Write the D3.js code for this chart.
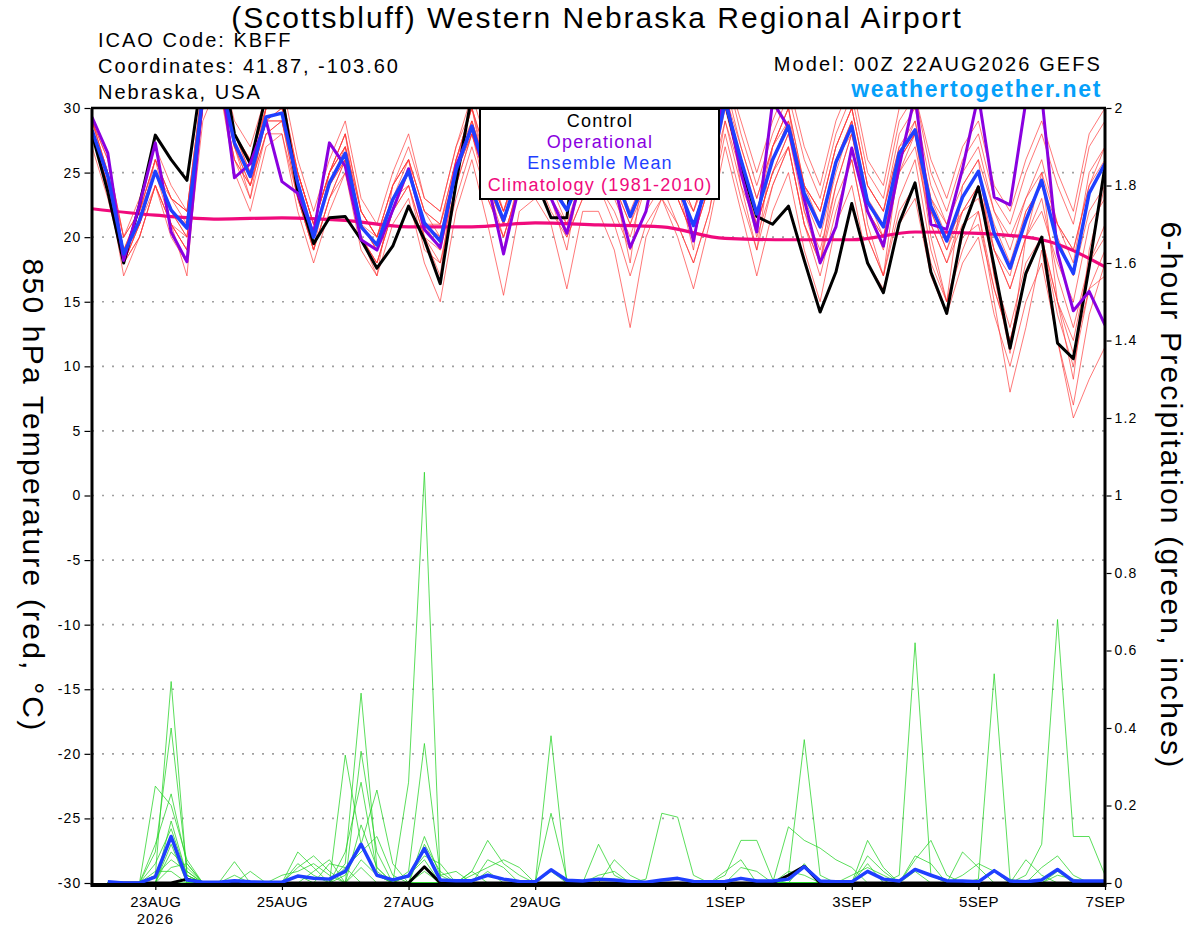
<!DOCTYPE html>
<html>
<head>
<meta charset="utf-8">
<script src="https://cdn.jsdelivr.net/npm/d3@7.9.0/dist/d3.min.js"></script>
<style>
  body { margin: 0; background: #fff; }
  svg { display: block; }
  text { font-family: "Liberation Sans", Arial, Helvetica, sans-serif; }
</style>
</head>
<body>
<svg id="chart" width="1200" height="927"></svg>
<script>
// ---- run / time axis ----
const runStart = "2026-08-22T00:00:00Z";   // 00Z run, 6-hourly output to 384h
const stepHours = 6;
const dateTicks = ["2026-08-23", "2026-08-25", "2026-08-27", "2026-08-29",
                   "2026-09-01", "2026-09-03", "2026-09-05", "2026-09-07"];
const dateTickLabels = ["23AUG", "25AUG", "27AUG", "29AUG", "1SEP", "3SEP", "5SEP", "7SEP"];
const yearLabel = "2026";

// ---- 850 hPa temperature (C), one value per 6 h ----
const control = [
  28, 23.5, 18, 22.5, 27.9, 26, 24.4, 33,
  35, 28, 25.7, 31, 31, 23.5, 19.5, 21.5,
  21.6, 19.8, 17.6, 19.3, 22.4, 19.8, 16.4, 24.2,
  31, 31, 28, 26, 24.5, 21.5, 21.5, 32,
  34, 33, 31, 31, 33, 34, 32, 31,
  30.5, 25.5, 21.6, 21.0, 22.4, 18.2, 14.2, 17.3,
  22.6, 18.0, 15.7, 21.1, 24.2, 17.3, 14.1, 20.6,
  23.9, 17.7, 11.4, 17.2, 20.0, 11.8, 10.6, 17.7,
  25.5];
const operational = [
  29.3, 26.5, 18.2, 22.5, 27.3, 20.4, 18.1, 31,
  34, 24.6, 25.7, 29, 24.3, 23.4, 20.3, 27.3,
  25.5, 19.8, 19, 22.1, 25.3, 20.6, 19.2, 25.5,
  28.5, 24.2, 18.7, 24, 25, 23, 20.3, 25,
  27, 24, 19.2, 22, 28, 25, 19.7, 26,
  31, 25, 20.4, 30.5, 28.5, 22.9, 18, 20.8,
  26.9, 22, 19.3, 25.5, 31, 21, 20.6, 25.3,
  31, 23.1, 22.5, 30.5, 31, 18.8, 14.3, 15.8,
  13.2];
const ensembleMean = [
  28.3, 24.7, 18.7, 21.3, 25.1, 22.1, 20.7, 31,
  33, 27.3, 24.7, 29.3, 29.6, 24.2, 20.0, 24.2,
  26.5, 20.8, 19.4, 22.9, 25.1, 21.1, 19.7, 25.2,
  28.6, 24.5, 21.3, 25, 26, 24, 22.1, 25,
  26, 25, 21.6, 24.5, 26, 24, 20.9, 24.5,
  30.5, 26, 21.8, 26, 28.6, 23.4, 20.8, 25.8,
  28.6, 22.7, 20.8, 26.5, 28.3, 22.4, 19.7, 23.1,
  25.1, 20.3, 17.6, 21.3, 24.4, 19.5, 17.2, 23.4,
  25.7];
// climatology is daily (00Z each day)
const climatologyDaily = [22.2, 21.7, 21.4, 21.5, 21.3, 20.8, 20.8, 21.1, 20.95,
                          20.8, 19.9, 19.8, 19.8, 20.4, 20.3, 19.8, 17.7];

// ensemble members (temperature)
const tMember01 = [29,26,20,23, 27,24,22,32, 34,29,27,31, 32,26,22,26,
  29,23,21,25, 28,23,22,27, 31,27,24,28, 29,27,25,28,
  29,28,25,27, 29,27,24,28, 33,29,25,29, 32,27,24,29,
  32,26,24,30, 31,26,23,27, 29,24,22,26, 29,25,22,28, 30];
const tMember02 = [28,24,17,20, 24,20,18,29, 32,25,22,27, 28,22,18,22,
  25,19,17,21, 23,18,15,22, 26,21,15.5,22, 23,21,16,22,
  22,19,13,20, 23,20,16,21, 27,22,17,22, 25,19,15,21,
  24,18,16,21, 23,17,14,18, 20,14,10,15, 18,12,7,14, 18];
const tMember03 = [28,25,19,22, 26,23,21,31, 33,28,25,30, 30,25,21,25,
  27,21,19,23, 26,22,20,26, 29,25,22,26, 27,25,23,26,
  27,26,23,26, 27,24,21,25, 31,25,20,24, 27,21,18,23,
  26,20,17,22, 24,18,15,20, 21,16,12,17, 20,15,11,16, 19];
const tMember04 = [27,23,18,20, 24,21,19,30, 32,26,23,28, 28,23,19,23,
  26,20,18,22, 24,20,19,24, 28,24,21,26, 27,25,23,27,
  28,27,24,27, 29,26,23,27, 33,28,24,28, 31,26,23,28,
  31,25,23,29, 31,25,22,26, 28,23,21,25, 28,24,21,27, 29];
const tMember05 = [29,25,18,21, 26,21,17,31, 34,27,23,30, 31,24,19,25,
  28,20,17,24, 26,20,17,26, 30,24,19,25, 28,23,19,26,
  29,24,18,27, 30,24,19,28, 32,24,19,27, 30,22,18,26,
  29,21,17,26, 28,20,15,24, 26,17,11,20, 25,15,9,19, 24];
const tMember06 = [28,24,19,21, 25,22,21,30, 33,27,25,29, 29,24,20,24,
  26,21,20,23, 25,21,21,25, 28,23,20,24, 25,22,20,23,
  24,22,19,22, 24,21,18,22, 29,24,21,25, 28,23,21,26,
  28,23,21,26, 28,22,20,23, 25,19,16,20, 23,17,13,18, 21];
const tMember07 = [29,26,20,22, 25,23,22,32, 33,28,26,30, 30,25,21,25,
  27,22,20,24, 26,22,21,26, 30,26,23,27, 28,26,24,27,
  27,26,23,25, 26,23,20,24, 31,26,22,27, 30,24,22,27,
  30,24,22,28, 30,24,21,25, 27,22,19,23, 26,21,18,25, 27];
const tMember08 = [28,24,18,21, 24,21,20,30, 32,26,24,28, 29,23,19,23,
  25,20,18,22, 24,19,18,23, 27,23,20,24, 25,23,21,24,
  25,23,20,24, 25,23,20,24, 30,26,22,26, 29,24,22,27,
  30,24,22,27, 29,23,20,22, 24,17,13,18, 20,14,10,16, 17];
const tMember09 = [28,25,19,21, 25,22,20,31, 33,27,24,29, 30,25,21,25,
  28,22,20,24, 27,23,22,27, 30,26,22,25, 26,23,20,23,
  24,21,17,21, 23,21,18,22, 28,23,19,24, 27,21,18,24,
  28,22,19,25, 27,21,18,22, 23,19,17,22, 24,21,19,24, 27];
const tMember10 = [29,25,19,22, 26,23,22,32, 34,28,26,30, 31,25,21,25,
  27,22,20,23, 24,20,18,24, 28,24,21,25, 26,24,23,26,
  27,26,23,26, 28,25,22,26, 32,27,23,27, 30,24,21,26,
  29,22,20,26, 29,23,21,24, 26,22,20,23, 25,21,19,24, 26];
const tMember11 = [28,24,18,20, 24,21,19,30, 32,26,24,28, 29,23,19,23,
  26,20,18,22, 25,21,20,25, 29,25,22,26, 27,25,22,25,
  26,24,21,24, 25,24,22,25, 30,25,21,25, 28,22,19,24,
  28,22,20,26, 28,21,18,21, 22,16,12,17, 20,15,12,18, 20];
const tMember12 = [28,25,19,21, 25,22,20,31, 33,27,25,29, 30,24,20,24,
  27,21,19,23, 25,21,19,25, 28,24,20,24, 26,25,23,26,
  27,27,24,27, 27,25,22,26, 31,27,23,27, 29,24,22,27,
  30,24,22,27, 28,22,19,22, 24,19,16,20, 22,18,15,21, 23];
const tMember13 = [28,24,18,21, 25,21,19,30, 32,27,24,29, 29,24,20,24,
  26,21,19,23, 25,21,20,25, 29,25,22,26, 26,24,22,25,
  25,24,21,25, 25,23,20,24, 29,25,21,25, 27,21,17,22,
  26,20,17,23, 26,19,15,19, 22,15,8,13, 19,12,6,9, 11.5];
const tMember14 = [29,25,20,22, 26,23,22,31, 33,28,25,30, 31,25,21,25,
  28,22,20,24, 26,22,21,26, 30,25,21,25, 27,24,21,25,
  27,25,22,25, 26,24,21,25, 31,26,22,26, 29,23,20,25,
  29,23,20,25, 28,22,19,23, 25,21,18,22, 24,20,17,22, 24];
const tempMembers = [tMember01, tMember02, tMember03, tMember04, tMember05, tMember06, tMember07,
                     tMember08, tMember09, tMember10, tMember11, tMember12, tMember13, tMember14];

// ---- 6-hour precipitation (inches); first step (0 h) has no value ----
const controlPrecip = [
  null,0,0,0,0,0,0.01,0,  0,0,0,0,0,0,0,0,
  0,0,0,0,0,0.042,0,0,    0,0,0,0,0,0,0,0,
  0,0,0,0,0,0,0,0,        0,0,0,0,0.02,0.043,0,0,
  0,0,0,0,0,0,0,0,        0,0,0,0,0,0,0,0,  0];
const ensembleMeanPrecip = [
  null,0.003,0,0,0.016,0.12,0.008,0.002,  0.002,0.006,0.003,0.002,0.002,0.018,0.012,0.01,
  0.03,0.10,0.02,0.008,0.018,0.089,0.008,0.006,  0.006,0.02,0.01,0.004,0.003,0.034,0.007,0.005,
  0.01,0.008,0.004,0.002,0.008,0.012,0.004,0.003,  0.004,0.012,0.005,0.005,0.01,0.042,0.005,0.003,
  0.003,0.03,0.01,0.005,0.035,0.02,0.006,0.005,  0.003,0.032,0.005,0.003,0.008,0.035,0.005,0.005,
  0.005];

const pMember01 = [null,0,0,0,0.02,0.52,0.02,0, 0,0,0,0,0,0.05,0.02,0,
  0.05,0.49,0.04,0,0,0,0,0, 0.03,0,0,0,0,0,0,0, 0,0,0,0,0,0,0,0,
  0.02,0.11,0.11,0.01,0,0,0,0, 0,0,0,0,0.03,0,0,0, 0,0,0,0,0,0,0,0, 0];
const pMember02 = [null,0,0,0,0.08,0.40,0.03,0, 0,0,0,0,0.02,0.03,0.05,0.02,
  0,0,0,0,0.26,1.06,0.01,0, 0,0,0,0,0,0,0,0, 0.10,0.02,0,0,0,0,0,0,
  0,0,0,0,0.02,0.37,0.02,0, 0,0,0,0,0,0,0,0, 0,0,0,0,0,0.02,0.01,0, 0];
const pMember03 = [null,0,0,0,0.25,0.20,0.06,0, 0,0,0,0,0,0,0,0,
  0.33,0.10,0.02,0,0,0,0,0, 0.03,0.11,0.05,0.02,0,0,0,0, 0,0,0,0,0,0,0,0,
  0,0,0,0,0,0,0,0, 0,0.11,0.04,0,0,0,0,0, 0.01,0.54,0.01,0,0,0,0,0, 0];
const pMember04 = [null,0,0,0,0.10,0.23,0.05,0, 0,0.055,0,0,0,0,0,0,
  0,0,0,0,0.03,0.36,0.02,0, 0,0,0,0,0,0,0,0, 0,0,0,0,0,0,0,0,
  0,0,0,0,0.145,0.11,0.09,0.06, 0.04,0,0,0,0,0,0,0, 0,0,0,0,0,0,0,0, 0];
const pMember05 = [null,0,0,0,0.05,0.14,0.02,0, 0,0,0,0,0,0.08,0.04,0,
  0,0.34,0.08,0,0,0,0,0, 0,0,0,0,0,0.38,0,0, 0,0,0,0,0,0,0,0,
  0,0,0,0,0,0,0,0, 0,0,0,0,0.07,0.05,0,0, 0,0,0,0,0,0,0,0, 0];
const pMember06 = [null,0,0,0,0,0.08,0.04,0, 0,0.02,0,0,0,0,0,0,
  0.08,0.26,0.03,0,0,0.03,0,0, 0,0.06,0.04,0,0,0,0,0, 0,0,0,0,0,0,0,0,
  0,0,0,0,0,0.05,0,0, 0,0,0,0.02,0.62,0.02,0,0, 0,0,0,0,0,0,0,0, 0];
const pMember07 = [null,0,0,0,0.02,0.06,0.03,0, 0,0,0,0,0,0,0.03,0.06,
  0,0,0,0,0,0.10,0.03,0, 0,0,0,0,0,0,0,0, 0,0,0,0,0,0,0,0,
  0,0.04,0.03,0,0,0,0,0, 0,0,0,0,0,0,0,0.08, 0.04,0,0,0,0,0,0,0, 0];
const pMember08 = [null,0,0,0,0,0.16,0.02,0, 0,0,0,0,0,0,0,0,
  0.02,0.10,0.24,0.05,0,0,0,0, 0,0,0,0,0,0.18,0.01,0, 0,0,0,0,0,0,0,0,
  0,0,0,0,0,0,0,0, 0,0.07,0.03,0,0,0,0,0, 0,0,0,0,0.04,0.07,0.02,0, 0];
const pMember09 = [null,0,0,0,0.03,0.03,0,0, 0,0,0,0,0,0.04,0.07,0.03,
  0,0,0,0,0.02,0.06,0,0, 0,0,0,0,0,0,0,0, 0,0.06,0.02,0,0,0,0,0,
  0,0,0,0,0.03,0.02,0,0, 0,0,0,0,0,0,0,0, 0,0,0,0.06,0.02,0,0,0, 0];
const pMember10 = [null,0,0,0,0,0.10,0,0, 0,0,0.03,0,0,0,0,0,
  0,0.06,0.02,0,0,0,0,0, 0.02,0.04,0.06,0.04,0,0,0,0, 0,0,0,0,0,0,0,0,
  0,0,0,0,0,0,0,0, 0,0.05,0,0,0,0,0,0, 0,0,0,0,0,0.03,0,0, 0];
const pMember11 = [null,0,0,0,0,0.04,0.05,0, 0,0,0,0,0,0,0,0.05,
  0.04,0,0,0,0,0.12,0.02,0.03, 0,0,0,0,0,0,0,0, 0,0,0,0.01,0.18,0.17,0.02,0,
  0,0,0,0,0,0,0,0, 0,0,0,0,0,0,0,0.02, 0.05,0.03,0,0,0,0,0,0, 0];
const pMember12 = [null,0,0,0,0,0.12,0,0, 0,0,0,0,0,0.02,0,0,
  0,0.15,0.04,0,0,0,0,0, 0,0.03,0,0,0,0,0,0, 0,0,0,0,0,0,0,0,
  0.03,0.06,0,0,0,0,0,0, 0,0,0,0,0,0,0,0, 0,0.03,0,0,0,0,0,0, 0];
const pMember13 = [null,0,0,0,0,0,0,0, 0,0,0,0,0,0,0,0,
  0.04,0.08,0.12,0.02,0,0.04,0,0, 0,0,0,0,0,0,0,0, 0.02,0.03,0,0,0,0,0,0,
  0,0,0,0,0,0,0,0, 0,0,0,0,0.06,0.11,0.02,0, 0,0,0,0,0,0,0,0, 0];
const pMember14 = [null,0,0,0,0,0,0,0, 0,0,0,0,0,0,0,0,
  0,0.04,0,0,0.02,0.07,0.05,0, 0,0,0,0,0,0.03,0,0, 0,0,0,0,0,0,0,0,
  0,0,0,0,0,0,0,0, 0.02,0.04,0.02,0,0,0,0,0, 0,0,0,0.02,0.10,0.68,0.12,0.12, 0.02];
const precipMembers = [pMember01, pMember02, pMember03, pMember04, pMember05, pMember06, pMember07,
                       pMember08, pMember09, pMember10, pMember11, pMember12, pMember13, pMember14];

// ---- text ----
const titleText = "(Scottsbluff) Western Nebraska Regional Airport";
const infoLines = ["ICAO Code: KBFF", "Coordinates: 41.87, -103.60", "Nebraska, USA"];
const modelText = "Model: 00Z 22AUG2026 GEFS";
const siteText = "weathertogether.net";
const leftTitle = "850 hPa Temperature (red, \u00B0C)";
const rightTitle = "6-hour Precipitation (green, inches)";
const legendLabels = ["Control", "Operational", "Ensemble Mean", "Climatology (1981-2010)"];

// ---- styles ----
const C = {
  control: "#000000",
  oper: "#8a00e0",
  mean: "#1f3fff",
  climo: "#f00a7c",
  red: "#ff3535",
  green: "#28d428",
  site: "#05a0fa",
  grid: "#a0a0a0"
};
const legendColors = [C.control, C.oper, C.mean, C.climo];

const P = { left: 92, right: 1105, top: 108, bottom: 883 };

const svg = d3.select("#chart");

const t0 = Date.parse(runStart);
const timeAt = i => new Date(t0 + i * stepHours * 3600e3);
const parseDay = d3.utcParse("%Y-%m-%d");

const x = d3.scaleUtc()
  .domain([timeAt(0), timeAt(control.length - 1)])
  .range([P.left, P.right]);
const yT = d3.scaleLinear().domain([-30, 30]).range([P.bottom, P.top]);
const yP = d3.scaleLinear().domain([0, 2]).range([P.bottom, P.top]);

// clip for all data lines
svg.append("defs").append("clipPath").attr("id", "plot-clip")
  .append("rect")
  .attr("x", P.left).attr("y", P.top)
  .attr("width", P.right - P.left).attr("height", P.bottom - P.top);

// dotted grid at the temperature ticks
const tempTicks = yT.ticks(12);
svg.append("g")
  .selectAll("line")
  .data(tempTicks.filter(d => d > -30 && d < 30))
  .join("line")
  .attr("x1", P.left).attr("x2", P.right)
  .attr("y1", d => yT(d)).attr("y2", d => yT(d))
  .attr("stroke", C.grid)
  .attr("stroke-width", 1.6)
  .attr("stroke-dasharray", "2 8");

const plot = svg.append("g").attr("clip-path", "url(#plot-clip)");

const tempLine = d3.line().x((d, i) => x(timeAt(i))).y(d => yT(d));
const precipLine = d3.line()
  .defined(d => d != null)
  .x((d, i) => x(timeAt(i)))
  .y(d => yP(d));
const climoLine = d3.line()
  .x((d, i) => x(timeAt(i * 24 / stepHours)))
  .y(d => yT(d))
  .curve(d3.curveMonotoneX);

// ensemble members
plot.append("g")
  .selectAll("path")
  .data(tempMembers)
  .join("path")
  .attr("d", tempLine)
  .attr("fill", "none")
  .attr("stroke", C.red)
  .attr("stroke-width", 0.9)
  .attr("stroke-opacity", 0.75);

plot.append("g")
  .selectAll("path")
  .data(precipMembers)
  .join("path")
  .attr("d", precipLine)
  .attr("fill", "none")
  .attr("stroke", C.green)
  .attr("stroke-width", 0.9)
  .attr("stroke-opacity", 0.85);

// climatology, control, operational, mean
plot.append("path").attr("d", climoLine(climatologyDaily))
  .attr("fill", "none").attr("stroke", C.climo).attr("stroke-width", 3.2);

plot.append("path").attr("d", precipLine(controlPrecip))
  .attr("fill", "none").attr("stroke", C.control).attr("stroke-width", 3)
  .attr("stroke-linejoin", "round");
plot.append("path").attr("d", tempLine(control))
  .attr("fill", "none").attr("stroke", C.control).attr("stroke-width", 3)
  .attr("stroke-linejoin", "round");
plot.append("path").attr("d", tempLine(operational))
  .attr("fill", "none").attr("stroke", C.oper).attr("stroke-width", 3)
  .attr("stroke-linejoin", "round");
plot.append("path").attr("d", tempLine(ensembleMean))
  .attr("fill", "none").attr("stroke", C.mean).attr("stroke-width", 3.5)
  .attr("stroke-linejoin", "round");
plot.append("path").attr("d", precipLine(ensembleMeanPrecip))
  .attr("fill", "none").attr("stroke", C.mean).attr("stroke-width", 3.5)
  .attr("stroke-linejoin", "round");

// ---- frame ----
const frame = svg.append("g").attr("stroke", "#000").attr("fill", "none");
frame.append("line").attr("x1", P.left - 1).attr("x2", P.right + 1)
  .attr("y1", P.top).attr("y2", P.top).attr("stroke-width", 2.5);
frame.append("line").attr("x1", P.left - 1.5).attr("x2", P.right + 1.5)
  .attr("y1", P.bottom + 2).attr("y2", P.bottom + 2).attr("stroke-width", 4);
frame.append("line").attr("x1", P.left).attr("x2", P.left)
  .attr("y1", P.top).attr("y2", P.bottom + 2).attr("stroke-width", 3);
frame.append("line").attr("x1", P.right).attr("x2", P.right)
  .attr("y1", P.top).attr("y2", P.bottom + 2).attr("stroke-width", 3);

// ---- axes ----
function styleAxis(g, size, spacing) {
  g.select(".domain").remove();
  g.attr("font-family", null).attr("font-size", null);
  g.selectAll("text")
    .attr("font-size", size)
    .attr("letter-spacing", spacing)
    .attr("fill", "#000");
  g.selectAll(".tick line").attr("stroke", "#000").attr("stroke-width", 1.2);
}

svg.append("g")
  .attr("transform", `translate(${P.left - 1.5},0)`)
  .call(d3.axisLeft(yT).tickValues(tempTicks).tickSize(6).tickPadding(3)
    .tickFormat(d => String(d)))
  .call(g => styleAxis(g, 14, 1.2));

svg.append("g")
  .attr("transform", `translate(${P.right + 1.5},0)`)
  .call(d3.axisRight(yP).ticks(10).tickSize(5).tickPadding(3).tickFormat(d3.format("~g")))
  .call(g => styleAxis(g, 14, 1.2));

const tickDates = dateTicks.map(parseDay);
svg.append("g")
  .attr("transform", `translate(0,${P.bottom})`)
  .call(d3.axisBottom(x).tickValues(tickDates).tickSize(7).tickPadding(6)
    .tickFormat((d, i) => dateTickLabels[i]))
  .call(g => styleAxis(g, 15, 0.4));

svg.append("text")
  .attr("x", x(tickDates[0])).attr("y", 924)
  .attr("text-anchor", "middle")
  .attr("font-size", 15).attr("letter-spacing", 1)
  .text(yearLabel);

// ---- axis titles ----
svg.append("text")
  .attr("transform", `translate(33,${(P.top + P.bottom) / 2}) rotate(90)`)
  .attr("text-anchor", "middle").attr("dy", "0.35em")
  .attr("font-size", 30).attr("letter-spacing", 2.2)
  .text(leftTitle);
svg.append("text")
  .attr("transform", `translate(1171,${(P.top + P.bottom) / 2}) rotate(90)`)
  .attr("text-anchor", "middle").attr("dy", "0.35em")
  .attr("font-size", 30).attr("letter-spacing", 2.2)
  .text(rightTitle);

// ---- header ----
svg.append("text")
  .attr("x", 597).attr("y", 28)
  .attr("text-anchor", "middle")
  .attr("font-size", 30).attr("letter-spacing", 2)
  .text(titleText);

svg.append("g")
  .selectAll("text")
  .data(infoLines)
  .join("text")
  .attr("x", 98)
  .attr("y", (d, i) => 47 + i * 26)
  .attr("font-size", 20).attr("letter-spacing", 2)
  .text(d => d);

svg.append("text")
  .attr("x", 1102).attr("y", 71)
  .attr("text-anchor", "end")
  .attr("font-size", 20).attr("letter-spacing", 2.1)
  .text(modelText);

svg.append("text")
  .attr("x", 1102).attr("y", 97)
  .attr("text-anchor", "end")
  .attr("font-size", 23).attr("font-weight", "bold").attr("letter-spacing", 1.7)
  .attr("fill", C.site)
  .text(siteText);

// ---- legend ----
const legend = svg.append("g");
legend.append("rect")
  .attr("x", 480).attr("y", 109).attr("width", 239).attr("height", 90)
  .attr("fill", "#fff").attr("stroke", "#000").attr("stroke-width", 2);
legend.selectAll("text")
  .data(legendLabels)
  .join("text")
  .attr("x", 600)
  .attr("y", (d, i) => 127 + i * 21.2)
  .attr("text-anchor", "middle")
  .attr("font-size", 18).attr("letter-spacing", 1.2)
  .attr("fill", (d, i) => legendColors[i])
  .text(d => d);
</script>
</body>
</html>
